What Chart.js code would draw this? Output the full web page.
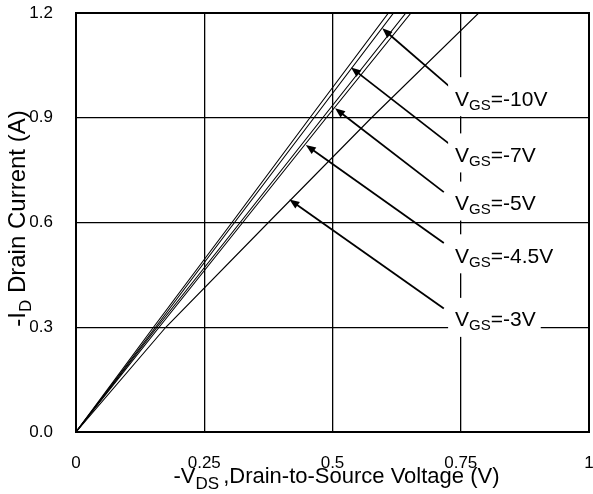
<!DOCTYPE html>
<html lang="en">
<head>
<meta charset="UTF-8">
<title>Drain Current vs Drain-to-Source Voltage</title>
<script src="https://cdn.jsdelivr.net/npm/chart.js"></script>
<style>
  html, body { margin: 0; padding: 0; background: #fff; }
  #wrap { width: 593px; height: 494px; }
</style>
</head>
<body>
<div id="wrap"><canvas id="ivChart" width="593" height="494"></canvas></div>
<script>
// curves: -VDS (V) at each drain current level
const idLevels = [0, 0.3, 0.6, 0.9, 1.2];
const vds10 = [0, 0.151, 0.304, 0.456, 0.609];
const vds7 = [0, 0.155, 0.309, 0.464, 0.619];
const vds5 = [0, 0.158, 0.320, 0.481, 0.643];
const vds45 = [0, 0.162, 0.325, 0.488, 0.653];
const vds3 = [0, 0.175, 0.375, 0.576, 0.785];

const vgsNames = ['-10V', '-7V', '-5V', '-4.5V', '-3V'];
const xTickLabels = ['0', '0.25', '0.5', '0.75', '1'];
const yTickLabels = ['0.0', '0.3', '0.6', '0.9', '1.2'];

// arrow annotations (data units)
const arrowTipX = [0.597, 0.536, 0.505, 0.448, 0.416];
const arrowTipY = [1.156, 1.044, 0.927, 0.822, 0.666];
const arrowTailX = [0.730, 0.727, 0.717, 0.717, 0.717];
const arrowTailY = [0.987, 0.826, 0.687, 0.541, 0.354];
const labelX = [0.739, 0.739, 0.739, 0.739, 0.739];
const labelY = [0.956, 0.795, 0.657, 0.506, 0.324];

const FONT = '"Liberation Sans", Arial, sans-serif';

const curves = [vds10, vds7, vds5, vds45, vds3];
const datasets = curves.map((xs, i) => ({
    label: 'VGS=' + vgsNames[i],
    data: xs.map((x, j) => ({ x: x, y: idLevels[j] })),
    borderColor: '#000',
    borderWidth: 1.1,
    pointRadius: 0,
    fill: false,
    tension: 0
}));

function subText(ctx, x, y, parts) {
    // parts: [text, size, dy, gapAfter]
    let cx = x;
    parts.forEach(p => {
        ctx.font = p[1] + 'px ' + FONT;
        ctx.fillText(p[0], cx, y + p[2]);
        cx += ctx.measureText(p[0]).width + (p[3] || 0);
    });
    return cx - x;
}

function measureParts(ctx, parts) {
    let w = 0;
    parts.forEach(p => {
        ctx.font = p[1] + 'px ' + FONT;
        w += ctx.measureText(p[0]).width + (p[3] || 0);
    });
    return w;
}

const annotate = {
    id: 'annotate',
    afterDatasetsDraw(chart) {
        const ctx = chart.ctx;
        const xs = chart.scales.x, ys = chart.scales.y;
        const a = chart.chartArea;
        ctx.save();
        ctx.fillStyle = '#000';
        ctx.strokeStyle = '#000';
        ctx.textBaseline = 'alphabetic';

        // frame
        ctx.lineWidth = 2;
        ctx.strokeRect(a.left, a.top, a.right - a.left, a.bottom - a.top);

        for (let i = 0; i < vgsNames.length; i++) {
            const tx = xs.getPixelForValue(arrowTipX[i]);
            const ty = ys.getPixelForValue(arrowTipY[i]);
            const sx = xs.getPixelForValue(arrowTailX[i]);
            const sy = ys.getPixelForValue(arrowTailY[i]);
            const ang = Math.atan2(ty - sy, tx - sx);
            ctx.lineWidth = 1.8;
            ctx.beginPath();
            ctx.moveTo(sx, sy);
            ctx.lineTo(tx - 6 * Math.cos(ang), ty - 6 * Math.sin(ang));
            ctx.stroke();
            ctx.beginPath();
            ctx.moveTo(tx, ty);
            ctx.lineTo(tx - 10 * Math.cos(ang) + 4 * Math.sin(ang), ty - 10 * Math.sin(ang) - 4 * Math.cos(ang));
            ctx.lineTo(tx - 10 * Math.cos(ang) - 4 * Math.sin(ang), ty - 10 * Math.sin(ang) + 4 * Math.cos(ang));
            ctx.closePath();
            ctx.fill();

            const parts = [['V', 21, 0], ['GS', 15, 4], ['=' + vgsNames[i], 21, 0]];
            const lx = xs.getPixelForValue(labelX[i]);
            const ly = ys.getPixelForValue(labelY[i]);
            const w = measureParts(ctx, parts);
            ctx.fillStyle = '#fff';
            ctx.fillRect(lx - 7, ly - 21, w + 12, 39);
            ctx.fillStyle = '#000';
            subText(ctx, lx, ly + 7.5, parts);
        }

        // x axis title
        const xt = [['-V', 22, 0], ['DS', 17, 6, 4], [',Drain-to-Source Voltage (V)', 22, 0]];
        const xw = measureParts(ctx, xt);
        subText(ctx, (a.left + a.right) / 2 + 4 - xw / 2, 483, xt);

        // y axis title
        const yt = [['-I', 24, 0], ['D', 17, 6], [' Drain Current (A)', 24, 0]];
        const yw = measureParts(ctx, yt);
        ctx.translate(25, (a.top + a.bottom) / 2 - 4);
        ctx.rotate(-Math.PI / 2);
        subText(ctx, -yw / 2, 0, yt);
        ctx.restore();
    }
};

new Chart(document.getElementById('ivChart'), {
    type: 'line',
    data: { datasets: datasets },
    plugins: [annotate],
    options: {
        responsive: false,
        animation: false,
        layout: { autoPadding: false, padding: { top: 13, right: 4, left: 0, bottom: 0 } },
        plugins: { legend: { display: false }, tooltip: { enabled: false } },
        scales: {
            x: {
                type: 'linear',
                min: 0, max: 1,
                afterFit: s => { s.height = 62; s.paddingLeft = 0; s.paddingRight = 0; },
                grid: { color: '#000', lineWidth: 1.3, drawTicks: false },
                border: { color: '#000', width: 2 },
                ticks: {
                    stepSize: 0.25,
                    padding: 21,
                    color: '#000',
                    font: { family: FONT, size: 17 },
                    maxRotation: 0,
                    callback: (v, i) => xTickLabels[i]
                }
            },
            y: {
                type: 'linear',
                min: 0, max: 1.2,
                afterFit: s => { s.width = 76; s.paddingTop = 0; s.paddingBottom = 0; },
                grid: { color: '#000', lineWidth: 1.3, drawTicks: false },
                border: { color: '#000', width: 2 },
                ticks: {
                    stepSize: 0.3,
                    padding: 23,
                    color: '#000',
                    font: { family: FONT, size: 17 },
                    callback: (v, i) => yTickLabels[i]
                }
            }
        }
    }
});
</script>
</body>
</html>
